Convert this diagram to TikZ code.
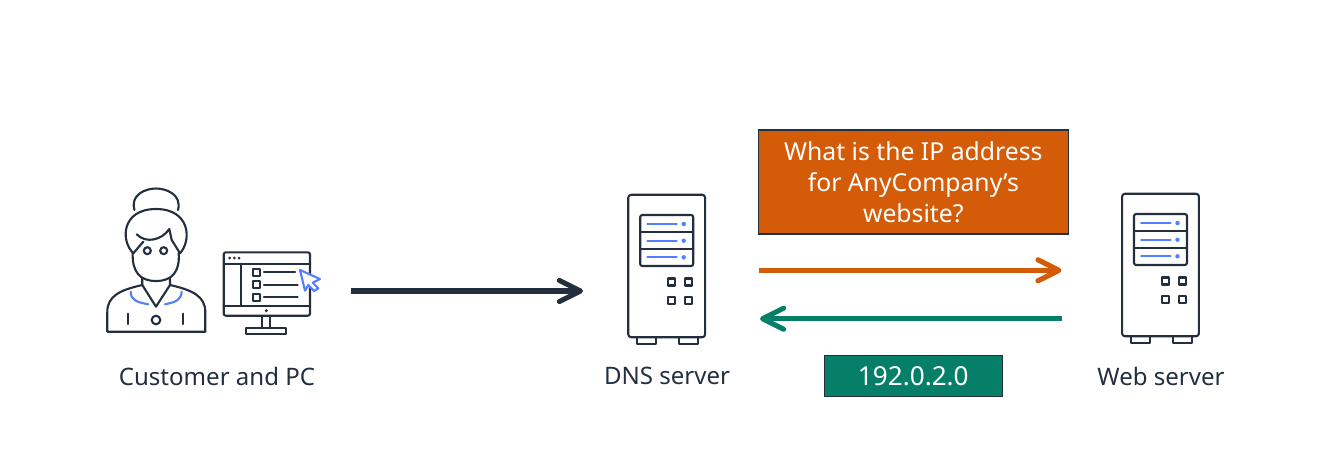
\documentclass[tikz,border=0pt]{standalone}
\usepackage{fontspec}
\setmainfont{Noto Sans}
\usetikzlibrary{arrows.meta}
\definecolor{icoDark}{RGB}{35,47,62}
\definecolor{icoBlue}{RGB}{82,127,255}
\definecolor{askOrange}{RGB}{212,91,7}
\definecolor{ansGreen}{RGB}{6,127,104}

\begin{document}
\begin{tikzpicture}[
    x=0.025cm, y=-0.025cm,
    ico/.style={draw=icoDark, line width=1.5pt, line join=round, line cap=round},
    icoblue/.style={draw=icoBlue, line width=1.5pt, line join=round, line cap=round},
    srvbody/.style={rectangle, ico, fill=white, rounded corners=2pt, minimum width=1.92cm, minimum height=3.56cm},
    lbl/.style={font=\fontsize{17.1}{20}\selectfont, text=icoDark, inner sep=0pt},
    msg/.style={rectangle, draw=icoDark, line width=1pt, text=white, align=center, font=\fontsize{17.6}{22}\selectfont},
    arr/.style={-{Straight Barb[length=15pt, width=15pt, round]}, line width=3.6pt},
    pics/serverbox/.style={code={
        \node[srvbody] (-body) at (0,0) {};
        \draw[ico, rounded corners=1.5pt] (-26.5,-51) rectangle (26.5,0);
        \draw[ico] (-26.5,-34.3) -- (26.5,-34.3);
        \draw[ico] (-26.5,-17) -- (26.5,-17);
        \foreach \yy in {-42,-25.3,-8.7} {
            \draw[icoblue] (-19.4,\yy) -- (10,\yy);
            \fill[icoBlue] (17,\yy) circle[radius=2.2];
        }
        \foreach \xx in {5,22} \foreach \yy in {16,34.3}
            \draw[ico] (\xx-3.5,\yy-3.5) rectangle (\xx+3.5,\yy+3.5);
        \draw[ico] (-29.4,71) -- (-29.4,78) -- (-10.7,78) -- (-10.7,71);
        \draw[ico] (12.6,71) -- (12.6,78) -- (31.6,78) -- (31.6,71);
    }},
]
\useasboundingbox (0,0) rectangle (1324,469);

% ========== CUSTOMER ==========
\draw[ico] (134.5,210) .. controls (130,195) and (145,188.5) .. (156,188.5) .. controls (167,188.5) and (182,195) .. (178,210);
\draw[ico] (133.3,253.3) .. controls (120,240) and (122,209) .. (156,209) .. controls (190,209) and (192,240) .. (180,253.3);
\draw[ico] (132.7,253) .. controls (132,272) and (140,281) .. (156,281) .. controls (172,281) and (180,272) .. (178.7,253);
\draw[ico] (136.7,234.3) .. controls (146,244) and (162,240) .. (169.3,229) -- (171.7,240) -- (180,253.3);
\draw[ico] (143.3,241.7) -- (133.3,253.3);
\draw[ico] (147.3,250.7) circle[radius=3.5];
\draw[ico] (163.7,250.7) circle[radius=3.5];
\draw[ico] (142.3,278.3) -- (142.3,285) -- (156,306.7) -- (170,285) -- (170,278.3);
\draw[ico] (142.3,285) .. controls (120,290) and (107.3,296) .. (107.3,312) -- (107.3,331.7) -- (205.3,331.7) -- (205.3,312) .. controls (205.3,296) and (192,290) .. (170,285);
\draw[icoblue] (130.7,291.7) .. controls (131,300) and (136,302) .. (148.3,304.3);
\draw[icoblue] (181.7,291.7) .. controls (181,300) and (176,302) .. (165,304.3);
\draw[ico] (127.7,313.7) -- (127.7,324);
\draw[ico] (183.3,313.7) -- (183.3,324);
\draw[ico] (156,320) circle[radius=4.3];

% ========== PC ==========
\draw[ico, rounded corners=1.5pt] (223.7,252.3) rectangle (310,315.7);
\draw[ico] (223.7,263.7) -- (310,263.7);
\draw[ico] (223.7,305.7) -- (310,305.7);
\draw[ico] (240.7,263.7) -- (240.7,305.7);
\foreach \xx in {229.7,234.3,239} \fill[icoDark] (\xx,258) circle[radius=1.5];
\foreach \yy/\xe in {272.3/295,284.7/297.7,297.3/297.7} {
    \draw[ico] (253,\yy-3.3) rectangle (259.6,\yy+3.3);
    \draw[ico] (264,\yy) -- (\xe,\yy);
}
\fill[icoDark] (266.3,310.7) circle[radius=1.7];
\draw[ico] (262,315.7) -- (262,328.3);
\draw[ico] (270.3,315.7) -- (270.3,328.3);
\draw[ico] (245.7,328.3) rectangle (286.3,333.7);
\draw[icoblue, fill=white] (300,270) -- (320,279) -- (312.7,282.7) -- (318.3,288.3) -- (314,291) -- (308.3,285) -- (305,290.7) -- cycle;

\node[lbl] at (217,376) (custlbl) {Customer and PC};

% ========== SERVERS ==========
\pic (dns) at (666.7,266) {serverbox};
\pic (web) at (1160.5,265) {serverbox};
\node[lbl] at (667,376) (dnslbl) {DNS server};
\node[lbl] at (1161,376) (weblbl) {Web server};

% ========== MESSAGES ==========
\node[msg, fill=askOrange, minimum width=7.75cm, minimum height=2.6cm] at (913.3,182) (ask) {What is the IP address\\for AnyCompany’s\\website?};
\node[msg, fill=ansGreen, minimum width=4.45cm, minimum height=1.035cm, font=\fontsize{18.6}{22}\selectfont] at (913.3,376) (ans) {192.0.2.0};

% ========== CONNECTIONS ==========
\coordinate (custout) at (351,291);
\coordinate (dnsin) at (583,291);
\coordinate (askfrom) at (759,270.3);
\coordinate (askto) at (1061.5,270.3);
\coordinate (ansfrom) at (1062,318.7);
\coordinate (ansto) at (760,318.7);

\draw[arr, icoDark] (custout) -- (dnsin);
\draw[arr, askOrange] (askfrom) -- (askto);
\draw[arr, ansGreen] (ansfrom) -- (ansto);

\end{tikzpicture}
\end{document}
